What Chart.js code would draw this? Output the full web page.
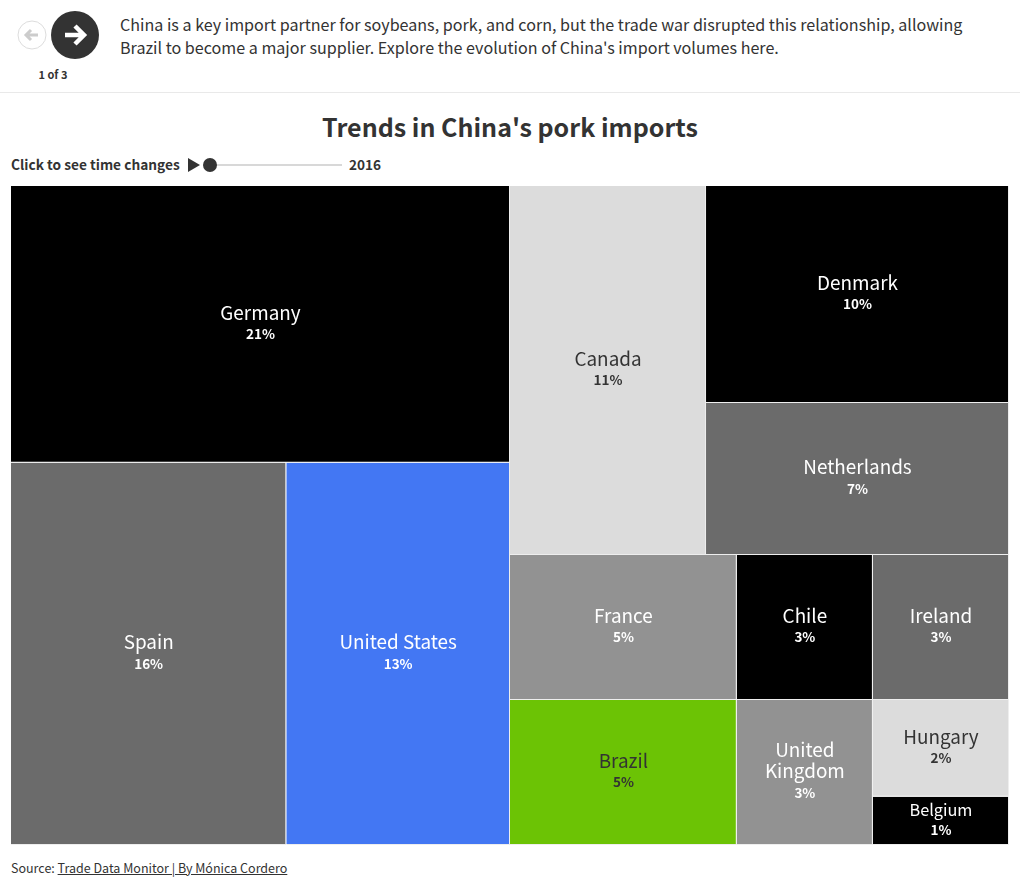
<!doctype html>
<html lang="en">

<head>
  <meta charset="UTF-8" />
  <title>Trends in China's pork imports</title>
  <script src="https://cdn.jsdelivr.net/npm/chart.js@4/dist/chart.umd.min.js"></script>
  <style>
    html, body { margin: 0; padding: 0; background: #fff; }
    body { position: relative; width: 1020px; height: 888px; overflow: hidden; color: #333; font-family: "Noto Sans CJK SC", "Noto Sans", sans-serif; }
    .abs { position: absolute; white-space: nowrap; }
    .intro { left: 120px; top: 13px; font-size: 16.1px; line-height: 23px; }
    .count { left: 23px; width: 60px; top: 66px; text-align: center; font-size: 11px; line-height: 16px; font-weight: 700; }
    .rule { left: 0; top: 92px; width: 1020px; height: 1px; background: #e9e9e9; }
    .title { left: 0; width: 1020px; top: 108px; text-align: center; font-size: 25px; line-height: 36px; font-weight: 700; }
    .hint { left: 11px; top: 154px; font-size: 13.7px; line-height: 20px; font-weight: 700; }
    .year { left: 349px; top: 154px; font-size: 13.6px; line-height: 20px; font-weight: 700; }
    .track { left: 210px; top: 164px; width: 132px; height: 2px; background: #d8d8d8; }
    .knob { left: 203px; top: 158px; width: 14px; height: 14px; border-radius: 50%; background: #333; }
    .source { left: 11px; top: 859px; font-size: 12.5px; line-height: 18px; }
    .source a { color: #333; text-decoration: underline; }
    #chartBox { position: absolute; left: 11px; top: 186px; width: 998px; height: 659px; }
  </style>
</head>

<body>
  <!-- story nav -->
  <svg class="abs" style="left:0;top:0" width="110" height="62">
    <circle cx="32" cy="35" r="14" fill="#fff" stroke="#ddd" stroke-width="1" />
    <path d="M38 35H27M31 30l-5 5 5 5" fill="none" stroke="#ccc" stroke-width="3" />
    <circle cx="75" cy="35" r="24" fill="#333" />
    <path d="M65 35H83M75 26l9 9-9 9" fill="none" stroke="#fff" stroke-width="4.5" />
  </svg>
  <div class="abs count">1 of 3</div>
  <div class="abs intro">China is a key import partner for soybeans, pork, and corn, but the trade war disrupted this relationship, allowing<br>Brazil to become a major supplier. Explore the evolution of China's import volumes here.</div>
  <div class="abs rule"></div>

  <div class="abs title">Trends in China's pork imports</div>

  <!-- time slider -->
  <div class="abs hint">Click to see time changes</div>
  <svg class="abs" style="left:187px;top:157px" width="14" height="16">
    <path d="M1 1L13 8 1 15Z" fill="#333" />
  </svg>
  <div class="abs track"></div>
  <div class="abs knob"></div>
  <div class="abs year">2016</div>

  <div id="chartBox"><canvas id="treeChart"></canvas></div>

  <div class="abs source">Source: <a href="#this">Trade Data Monitor | By Mónica Cordero</a></div>

  <script>
    const categories = ['Germany', 'Spain', 'United States', 'Canada', 'Denmark', 'Netherlands', 'France', 'Brazil', 'Chile', 'United Kingdom', 'Ireland', 'Hungary', 'Belgium'];
    const shares = [21, 16, 13, 11, 10, 7, 5, 5, 3, 3, 3, 2, 1];
    const cellColors = ['#000000', '#6b6b6b', '#4377f3', '#dcdcdc', '#000000', '#6b6b6b', '#929292', '#6cc305', '#000000', '#929292', '#6b6b6b', '#dcdcdc', '#000000'];
    const darkText = ['Canada', 'Brazil', 'Hungary'];
    const wrapped = { 'United Kingdom': ['United', 'Kingdom'] };

    // how the cells nest: 'h' splits side by side, 'v' splits top to bottom
    const nesting = ['h',
      ['v', 'Germany', ['h', 'Spain', 'United States']],
      ['v',
        ['h', 'Canada', ['v', 'Denmark', 'Netherlands']],
        ['h', ['v', 'France', 'Brazil'], ['v', 'Chile', 'United Kingdom'], ['v', 'Ireland', 'Hungary', 'Belgium']]
      ]
    ];

    function nodeTotal(node) {
      if (typeof node === 'string') return shares[categories.indexOf(node)];
      return node.slice(1).reduce(function (sum, kid) { return sum + nodeTotal(kid); }, 0);
    }

    // slice and dice the nesting into rectangles, in axis units
    function sliceCells(node, x0, x1, y0, y1, out) {
      if (typeof node === 'string') {
        out[categories.indexOf(node)] = { x0: x0, x1: x1, y0: y0, y1: y1 };
        return out;
      }
      const total = nodeTotal(node);
      let done = 0;
      node.slice(1).forEach(function (kid) {
        const from = done / total;
        done += nodeTotal(kid);
        const to = done / total;
        if (node[0] === 'h') {
          sliceCells(kid, x0 + (x1 - x0) * from, x0 + (x1 - x0) * to, y0, y1, out);
        } else {
          sliceCells(kid, x0, x1, y0 + (y1 - y0) * from, y0 + (y1 - y0) * to, out);
        }
      });
      return out;
    }

    // bar elements positioned on both linear scales
    class TreeCellController extends Chart.DatasetController {
      update(mode) {
        const meta = this._cachedMeta;
        this.updateElements(meta.data, 0, meta.data.length, mode);
      }
      updateElements(cells, start, count, mode) {
        const xScale = this._cachedMeta.xScale;
        const yScale = this._cachedMeta.yScale;
        for (let i = start; i < start + count; i++) {
          const box = this.getParsed(i);
          const left = xScale.getPixelForValue(box.x0);
          const right = xScale.getPixelForValue(box.x1);
          this.updateElement(cells[i], i, {
            horizontal: false,
            borderSkipped: {},
            enableBorderRadius: false,
            inflateAmount: 0,
            x: (left + right) / 2,
            width: right - left,
            y: yScale.getPixelForValue(box.y0),
            base: yScale.getPixelForValue(box.y1),
            options: this.resolveDataElementOptions(i, mode)
          }, mode);
        }
      }
    }
    TreeCellController.id = 'treecell';
    TreeCellController.defaults = { dataElementType: 'bar' };
    Chart.register(TreeCellController);

    const cellLabels = {
      id: 'cellLabels',
      afterDatasetsDraw: function (chart) {
        const ctx = chart.ctx;
        chart.getDatasetMeta(0).data.forEach(function (cell, i) {
          const name = categories[i];
          const lines = wrapped[name] || [name];
          const center = cell.getCenterPoint();
          const small = cell.base - cell.y < 60;
          const nameSize = small ? 16.3 : 18.9;
          const nameLead = small ? 20 : 21;
          const pctLead = small ? 19 : 21;
          const top = center.y - 1.5 - (lines.length * nameLead + pctLead) / 2;
          ctx.save();
          ctx.textAlign = 'center';
          ctx.textBaseline = 'middle';
          ctx.fillStyle = darkText.includes(name) ? '#333333' : '#ffffff';
          ctx.font = '400 ' + nameSize + 'px "Noto Sans CJK SC", "Noto Sans", sans-serif';
          lines.forEach(function (line, n) {
            ctx.fillText(line, center.x, top + nameLead * (n + 0.5));
          });
          ctx.font = '700 13.5px "Noto Sans CJK SC", "Noto Sans", sans-serif';
          ctx.fillText(shares[i] + '%', center.x, top + lines.length * nameLead + pctLead / 2 + 0.8);
          ctx.restore();
        });
      }
    };

    function drawChart() {
      new Chart(document.getElementById('treeChart').getContext('2d'), {
        type: 'treecell',
        plugins: [cellLabels],
        data: {
          labels: categories,
          datasets: [{
            parsing: false,
            data: sliceCells(nesting, 0, 100, 0, 100, []),
            backgroundColor: cellColors,
            borderColor: '#eeeeee',
            borderWidth: { top: 0, left: 0, right: 1, bottom: 1 },
            borderSkipped: false
          }]
        },
        options: {
          responsive: true,
          maintainAspectRatio: false,
          animation: false,
          events: [],
          layout: { padding: 0 },
          plugins: {
            legend: { display: false },
            tooltip: { enabled: false }
          },
          scales: {
            x: { type: 'linear', display: false, min: 0, max: 100 },
            y: { type: 'linear', display: false, min: 0, max: 100, reverse: true }
          }
        }
      });
    }

    drawChart();
  </script>
</body>

</html>
